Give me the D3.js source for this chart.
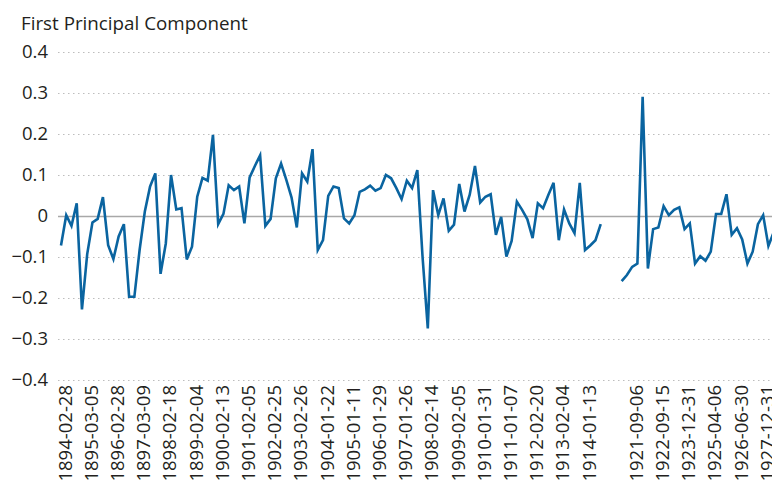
<!DOCTYPE html>
<html>
<head>
<meta charset="utf-8">
<script src="https://cdn.jsdelivr.net/npm/d3@7"></script>
<style>
  body { margin: 0; background: #fff; }
  svg { display: block; font-family: "Open Sans", sans-serif; }
</style>
</head>
<body>
<div id="chart"></div>
<script>
var width = 772;
var height = 483;

// first principal component, one value per observation (null = no data)
var values = [
  -0.072, 0.002, -0.024, 0.031, -0.228, -0.093, -0.016, -0.007, 0.046, -0.071,
  -0.105, -0.05, -0.02, -0.197, -0.197, -0.083, 0.011, 0.072, 0.104, -0.141,
  -0.067, 0.1, 0.016, 0.019, -0.106, -0.075, 0.047, 0.093, 0.086, 0.198,
  -0.02, 0.005, 0.075, 0.063, 0.072, -0.018, 0.094, 0.122, 0.148, -0.024,
  -0.007, 0.092, 0.128, 0.088, 0.045, -0.028, 0.104, 0.084, 0.163, -0.083,
  -0.059, 0.049, 0.072, 0.068, -0.006, -0.018, 0.002, 0.059, 0.065, 0.074,
  0.062, 0.068, 0.1, 0.092, 0.068, 0.041, 0.086, 0.068, 0.112, -0.1,
  -0.274, 0.063, 0.002, 0.043, -0.036, -0.021, 0.078, 0.011, 0.052, 0.122,
  0.033, 0.047, 0.053, -0.046, -0.002, -0.099, -0.061, 0.035, 0.015, -0.008,
  -0.054, 0.031, 0.019, 0.051, 0.081, -0.059, 0.016, -0.018, -0.042, 0.081,
  -0.083, -0.072, -0.059, -0.02, null, null, null, -0.159, -0.144, -0.124,
  -0.116, 0.291, -0.128, -0.032, -0.028, 0.024, 0.002, 0.015, 0.021, -0.032,
  -0.018, -0.116, -0.098, -0.109, -0.087, 0.005, 0.005, 0.053, -0.046, -0.03,
  -0.057, -0.116, -0.087, -0.02, 0.002, -0.073, -0.04
];

// observation number of each labelled tick, and its date
var tickIndex = [0, 5, 10, 15, 20, 25, 30, 35, 40, 45, 50, 55, 60, 65, 70,
  75, 80, 85, 90, 95, 100, 109, 114, 119, 124, 129, 134];
var tickLabels = ["1894-02-28", "1895-03-05", "1896-02-28", "1897-03-09",
  "1898-02-18", "1899-02-04", "1900-02-13", "1901-02-05", "1902-02-25",
  "1903-02-26", "1904-01-22", "1905-01-11", "1906-01-29", "1907-01-26",
  "1908-02-14", "1909-02-05", "1910-01-31", "1911-01-07", "1912-02-20",
  "1913-02-04", "1914-01-13", "1921-09-06", "1922-09-15", "1923-12-31",
  "1925-04-06", "1926-06-30", "1927-12-31"];

var yTicks = [-0.4, -0.3, -0.2, -0.1, 0, 0.1, 0.2, 0.3, 0.4];

var categories = d3.range(values.length);

var svg = d3.select('#chart').append('svg')
    .attr('width', width)
    .attr('height', height);

var xScale = d3.scalePoint()
    .domain(categories)
    .range([61, 61 + 5.24 * (values.length - 1)]);

var yScale = d3.scaleLinear()
    .domain([-0.4, 0.4])
    .range([380, 52]);

//title
svg.append('text')
    .attr('x', 21)
    .attr('y', 30)
    .style('font-size', '18.8px')
    .attr('fill', '#231f20')
    .text('First Principal Component');

//gridlines
var grid = svg.append('g')
    .attr('transform', 'translate(58,0)')
    .call(d3.axisLeft(yScale)
        .tickValues(yTicks)
        .tickSize(-(width - 58))
        .tickFormat(''));
grid.select('.domain').remove();
grid.selectAll('line')
    .attr('stroke', '#b5b5b5')
    .attr('stroke-width', 1.2)
    .attr('stroke-dasharray', function(d) { return d === 0 ? null : '1.5,3.5'; })
    .attr('stroke-width', function(d) { return d === 0 ? 1.5 : 1.2; })
    .attr('stroke', function(d) { return d === 0 ? '#a8a8a8' : '#bdbdbd'; });

// y axis labels
var yAxis = svg.append('g')
    .attr('transform', 'translate(48,0)')
    .call(d3.axisLeft(yScale)
        .tickValues(yTicks)
        .tickSize(0)
        .tickPadding(0)
        .tickFormat(function(d) { return d === 0 ? '0' : d3.format('.1f')(d); }));
yAxis.select('.domain').remove();
yAxis.selectAll('text')
    .attr('fill', '#231f20')
    .style('font-family', '"Open Sans", sans-serif')
    .style('font-size', '18.5px');

// x axis labels
var xAxis = svg.append('g')
    .attr('transform', 'translate(0,385)')
    .call(d3.axisBottom(xScale)
        .tickValues(tickIndex)
        .tickSize(0)
        .tickPadding(0)
        .tickFormat(function(d) { return tickLabels[tickIndex.indexOf(d)]; }));
xAxis.select('.domain').remove();
xAxis.selectAll('text')
    .attr('fill', '#231f20')
    .style('font-family', '"Open Sans", sans-serif')
    .style('font-size', '18.5px')
    .attr('text-anchor', 'end')
    .attr('x', 0)
    .attr('y', 0)
    .attr('dy', '0.55em')
    .attr('transform', 'rotate(-90)');

// the line
var line = d3.line()
    .defined(function(d) { return d != null; })
    .x(function(d, i) { return xScale(categories[i]); })
    .y(function(d) { return yScale(d); });

svg.append('path')
    .datum(values)
    .attr('d', line)
    .attr('fill', 'none')
    .attr('stroke', '#0a64a0')
    .attr('stroke-width', 2.6)
    .attr('stroke-linejoin', 'miter')
    .attr('stroke-linecap', 'butt');
</script>
</body>
</html>
